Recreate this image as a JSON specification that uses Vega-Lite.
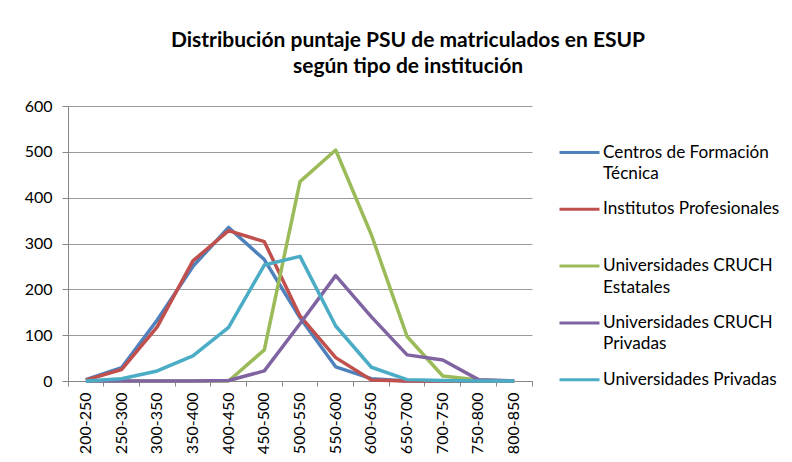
{
  "$schema": "https://vega.github.io/schema/vega-lite/v6.json",
  "autosize": {"type": "none"},
  "width": 464,
  "height": 275,
  "padding": {"left": 68, "top": 106, "right": 260, "bottom": 81},
  "background": "white",
  "title": {
    "text": ["Distribución puntaje PSU de matriculados en ESUP", "según tipo de institución"],
    "anchor": "middle",
    "dx": 108,
    "offset": 21,
    "font": "Lato",
    "fontSize": 21,
    "fontWeight": "bold",
    "lineHeight": 26,
    "color": "#000000"
  },
  "data": {
    "values": [
      {"rango": "200-250", "serie": "Centros de Formación Técnica", "valor": 3},
      {"rango": "250-300", "serie": "Centros de Formación Técnica", "valor": 29},
      {"rango": "300-350", "serie": "Centros de Formación Técnica", "valor": 133},
      {"rango": "350-400", "serie": "Centros de Formación Técnica", "valor": 250},
      {"rango": "400-450", "serie": "Centros de Formación Técnica", "valor": 335},
      {"rango": "450-500", "serie": "Centros de Formación Técnica", "valor": 265},
      {"rango": "500-550", "serie": "Centros de Formación Técnica", "valor": 138},
      {"rango": "550-600", "serie": "Centros de Formación Técnica", "valor": 31},
      {"rango": "600-650", "serie": "Centros de Formación Técnica", "valor": 5},
      {"rango": "650-700", "serie": "Centros de Formación Técnica", "valor": 0},
      {"rango": "700-750", "serie": "Centros de Formación Técnica", "valor": 0},
      {"rango": "750-800", "serie": "Centros de Formación Técnica", "valor": 0},
      {"rango": "800-850", "serie": "Centros de Formación Técnica", "valor": 0},
      {"rango": "200-250", "serie": "Institutos Profesionales", "valor": 2},
      {"rango": "250-300", "serie": "Institutos Profesionales", "valor": 25},
      {"rango": "300-350", "serie": "Institutos Profesionales", "valor": 118},
      {"rango": "350-400", "serie": "Institutos Profesionales", "valor": 262},
      {"rango": "400-450", "serie": "Institutos Profesionales", "valor": 328},
      {"rango": "450-500", "serie": "Institutos Profesionales", "valor": 304},
      {"rango": "500-550", "serie": "Institutos Profesionales", "valor": 142},
      {"rango": "550-600", "serie": "Institutos Profesionales", "valor": 51},
      {"rango": "600-650", "serie": "Institutos Profesionales", "valor": 2},
      {"rango": "650-700", "serie": "Institutos Profesionales", "valor": 0},
      {"rango": "700-750", "serie": "Institutos Profesionales", "valor": 0},
      {"rango": "750-800", "serie": "Institutos Profesionales", "valor": 0},
      {"rango": "800-850", "serie": "Institutos Profesionales", "valor": 0},
      {"rango": "200-250", "serie": "Universidades CRUCH Estatales", "valor": 0},
      {"rango": "250-300", "serie": "Universidades CRUCH Estatales", "valor": 0},
      {"rango": "300-350", "serie": "Universidades CRUCH Estatales", "valor": 0},
      {"rango": "350-400", "serie": "Universidades CRUCH Estatales", "valor": 0},
      {"rango": "400-450", "serie": "Universidades CRUCH Estatales", "valor": 0},
      {"rango": "450-500", "serie": "Universidades CRUCH Estatales", "valor": 68},
      {"rango": "500-550", "serie": "Universidades CRUCH Estatales", "valor": 435},
      {"rango": "550-600", "serie": "Universidades CRUCH Estatales", "valor": 504},
      {"rango": "600-650", "serie": "Universidades CRUCH Estatales", "valor": 319},
      {"rango": "650-700", "serie": "Universidades CRUCH Estatales", "valor": 97},
      {"rango": "700-750", "serie": "Universidades CRUCH Estatales", "valor": 11},
      {"rango": "750-800", "serie": "Universidades CRUCH Estatales", "valor": 2},
      {"rango": "800-850", "serie": "Universidades CRUCH Estatales", "valor": 0},
      {"rango": "200-250", "serie": "Universidades CRUCH Privadas", "valor": 0},
      {"rango": "250-300", "serie": "Universidades CRUCH Privadas", "valor": 0},
      {"rango": "300-350", "serie": "Universidades CRUCH Privadas", "valor": 0},
      {"rango": "350-400", "serie": "Universidades CRUCH Privadas", "valor": 0},
      {"rango": "400-450", "serie": "Universidades CRUCH Privadas", "valor": 1},
      {"rango": "450-500", "serie": "Universidades CRUCH Privadas", "valor": 22},
      {"rango": "500-550", "serie": "Universidades CRUCH Privadas", "valor": 125},
      {"rango": "550-600", "serie": "Universidades CRUCH Privadas", "valor": 230},
      {"rango": "600-650", "serie": "Universidades CRUCH Privadas", "valor": 140},
      {"rango": "650-700", "serie": "Universidades CRUCH Privadas", "valor": 57},
      {"rango": "700-750", "serie": "Universidades CRUCH Privadas", "valor": 46},
      {"rango": "750-800", "serie": "Universidades CRUCH Privadas", "valor": 3},
      {"rango": "800-850", "serie": "Universidades CRUCH Privadas", "valor": 0},
      {"rango": "200-250", "serie": "Universidades Privadas", "valor": 0},
      {"rango": "250-300", "serie": "Universidades Privadas", "valor": 5},
      {"rango": "300-350", "serie": "Universidades Privadas", "valor": 22},
      {"rango": "350-400", "serie": "Universidades Privadas", "valor": 55},
      {"rango": "400-450", "serie": "Universidades Privadas", "valor": 117},
      {"rango": "450-500", "serie": "Universidades Privadas", "valor": 253},
      {"rango": "500-550", "serie": "Universidades Privadas", "valor": 272},
      {"rango": "550-600", "serie": "Universidades Privadas", "valor": 120},
      {"rango": "600-650", "serie": "Universidades Privadas", "valor": 30},
      {"rango": "650-700", "serie": "Universidades Privadas", "valor": 3},
      {"rango": "700-750", "serie": "Universidades Privadas", "valor": 1},
      {"rango": "750-800", "serie": "Universidades Privadas", "valor": 0},
      {"rango": "800-850", "serie": "Universidades Privadas", "valor": 0}
    ]
  },
  "mark": {"type": "line", "strokeWidth": 3.5, "strokeJoin": "round"},
  "encoding": {
    "x": {
      "field": "rango",
      "type": "ordinal",
      "sort": null,
      "bandPosition": 0.5,
      "scale": {"type": "band", "paddingInner": 0, "paddingOuter": 0},
      "axis": {
        "title": null,
        "labelAngle": -90,
        "labelFont": "Lato",
        "labelFontSize": 16,
        "labelColor": "#000000",
        "labelPadding": 6,
        "tickSize": 5,
        "tickColor": "#868686",
        "domainColor": "#868686",
        "bandPosition": 1,
        "tickExtra": true,
        "grid": false
      }
    },
    "y": {
      "field": "valor",
      "type": "quantitative",
      "scale": {"domain": [0, 600], "nice": false},
      "axis": {
        "title": null,
        "values": [0, 100, 200, 300, 400, 500, 600],
        "labelFont": "Lato",
        "labelFontSize": 16,
        "labelColor": "#000000",
        "labelPadding": 10,
        "tickSize": 6,
        "tickColor": "#868686",
        "domainColor": "#868686",
        "grid": true,
        "gridColor": "#9a9a9a",
        "gridWidth": 1
      }
    },
    "color": {
      "field": "serie",
      "type": "nominal",
      "scale": {
        "domain": ["Centros de Formación Técnica", "Institutos Profesionales", "Universidades CRUCH Estatales", "Universidades CRUCH Privadas", "Universidades Privadas"],
        "range": ["#4F81BD", "#C0504D", "#9BBB59", "#8064A2", "#4BACC6"]
      },
      "legend": {
        "title": null,
        "orient": "none",
        "legendX": 490,
        "legendY": 25,
        "padding": 0,
        "symbolType": "stroke",
        "symbolSize": 1600,
        "symbolStrokeWidth": 3,
        "labelOffset": 2,
        "labelFont": "Lato",
        "labelFontSize": 17.2,
        "labelColor": "#000000",
        "labelLimit": 300,
        "labelBaseline": "middle",
        "rowPadding": 4.8,
        "labelExpr": "datum.label == 'Centros de Formación Técnica' ? ['Centros de Formación', 'Técnica'] : datum.label == 'Universidades CRUCH Estatales' ? ['Universidades CRUCH', 'Estatales'] : datum.label == 'Universidades CRUCH Privadas' ? ['Universidades CRUCH', 'Privadas'] : [datum.label, '']",
        "encode": {"labels": {"update": {"lineHeight": {"value": 21.5}}}}
      }
    }
  },
  "config": {"view": {"stroke": null}}
}
